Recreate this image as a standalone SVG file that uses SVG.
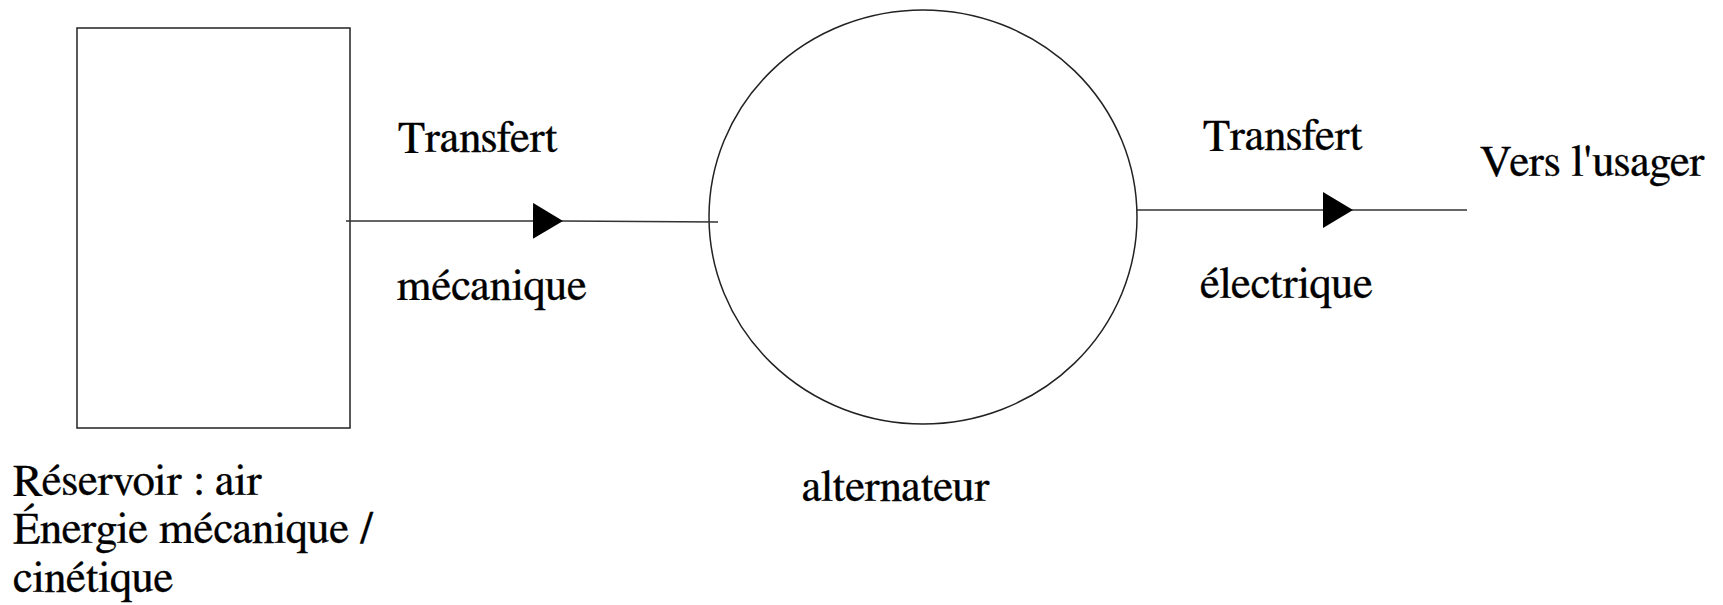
<svg xmlns="http://www.w3.org/2000/svg" width="1723" height="605" viewBox="0 0 1723 605">
<style>
.lbl{font-family:FreeSerif,'Liberation Serif','Times New Roman',serif;font-size:44.6px;fill:#000;stroke:#000;stroke-width:0.35}
.shape{fill:none;stroke:#222;stroke-width:1.5}
.conn{fill:none;stroke:#333;stroke-width:1.5}
</style>
<defs>
<marker id="tri" viewBox="0 0 30 36" refX="30" refY="18" markerWidth="30" markerHeight="36" markerUnits="userSpaceOnUse" orient="auto">
<path d="M0,0 L30,18 L0,36 Z" fill="#000"/>
</marker>
</defs>
<rect width="1723" height="605" fill="#fff"/>
<g id="reservoir">
<rect class="shape" x="77" y="28" width="273" height="400"/>
<text class="lbl" x="13" y="495">Réservoir : air</text>
<text class="lbl" x="13" y="543">Énergie mécanique /</text>
<text class="lbl" x="13" y="592">cinétique</text>
</g>
<g id="alternateur">
<ellipse class="shape" cx="923" cy="217" rx="214" ry="207"/>
<text class="lbl" x="802" y="501">alternateur</text>
</g>
<g id="usager">
<text class="lbl" x="1480" y="176">Vers l'usager</text>
</g>
<g id="connectors">
<path class="conn" d="M346,221 L563,221 L718,222" marker-mid="url(#tri)"/>
<text class="lbl" x="398" y="152">Transfert</text>
<text class="lbl" x="397" y="300">mécanique</text>
<path class="conn" d="M1137,210 L1353,210 L1467,210" marker-mid="url(#tri)"/>
<text class="lbl" x="1203" y="150">Transfert</text>
<text class="lbl" x="1200" y="298">électrique</text>
</g>
</svg>
